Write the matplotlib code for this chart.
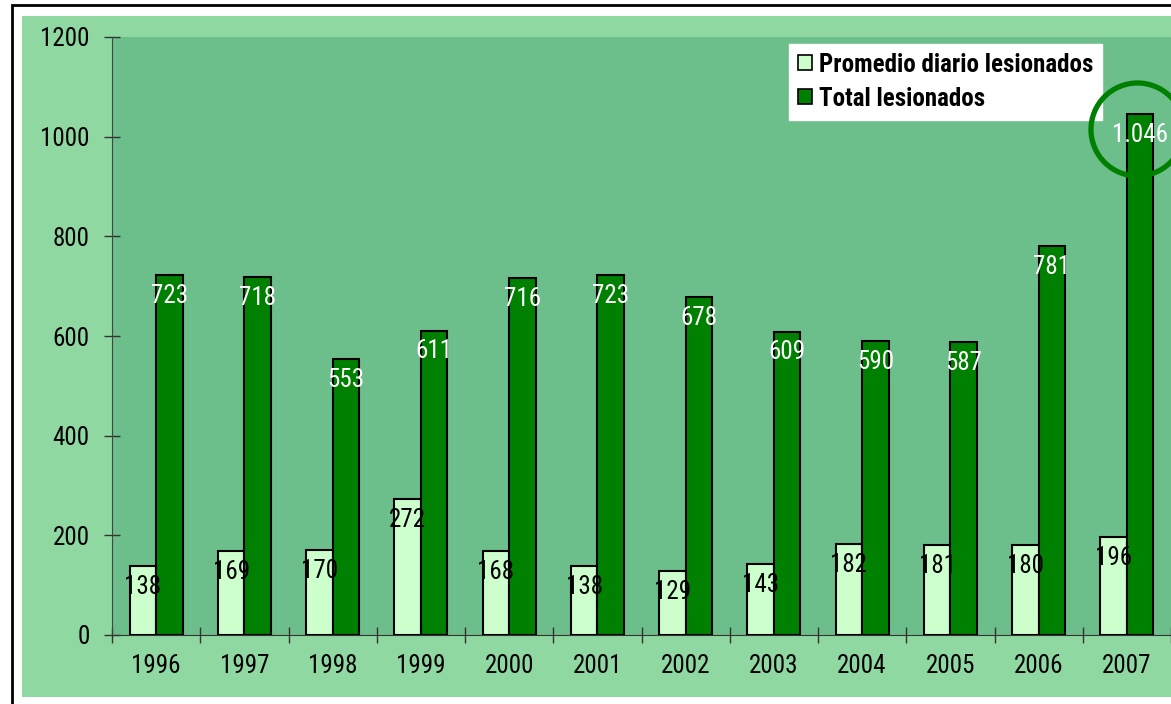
import matplotlib.pyplot as plt
import matplotlib.patches as mpatches
from matplotlib import font_manager as fm
from matplotlib.transforms import offset_copy
import numpy as np

# narrow sans like the original Arial Narrow, whichever is installed first
wanted = ['Liberation Sans Narrow', 'Arial Narrow', 'Roboto Condensed', 'Archivo Narrow',
          'Pragati Narrow', 'PT Sans Narrow']
have = {f.name for f in fm.fontManager.ttflist}
plt.rcParams['font.family'] = [n for n in wanted if n in have] + ['DejaVu Sans']

years = ['1996', '1997', '1998', '1999', '2000', '2001', '2002', '2003', '2004', '2005', '2006', '2007']
promedio = [138, 169, 170, 272, 168, 138, 129, 143, 182, 181, 180, 196]
total = [723, 718, 553, 611, 716, 723, 678, 609, 590, 587, 781, 1046]


def fmt(v):
    return f"{v:,}".replace(',', '.')


fig = plt.figure(figsize=(11.71, 7.04), dpi=100)
fig.patch.set_facecolor('white')

# outer frame and light green chart area
W, H = 1171, 704
fig.patches.append(mpatches.Rectangle((12 / W, -0.1), 1.2, 1 - 5 / H + 0.1, transform=fig.transFigure,
                                      facecolor='white', edgecolor='black', linewidth=2, zorder=-3))
fig.patches.append(mpatches.Rectangle((22 / W, 1 - 697 / H), 1.2, (697 - 16) / H, transform=fig.transFigure,
                                      facecolor='#8fd8a2', edgecolor='none', zorder=-2))

ax = fig.add_axes([112 / W, 1 - 635 / H, 1 - 112 / W, (635 - 37) / H])
ax.set_facecolor('#6cbf8a')

x = np.arange(len(years))
w = 0.3
b1 = ax.bar(x - w / 2, promedio, w, color='#ccffcc', edgecolor='black', linewidth=1.5,
            label='Promedio diario lesionados', zorder=3)
b2 = ax.bar(x + w / 2, total, w, color='#008000', edgecolor='black', linewidth=1.5,
            label='Total lesionados', zorder=3)

for xi, v in zip(x - w / 2, promedio):
    ax.annotate(fmt(v), (xi, v), xytext=(0, -15), textcoords='offset points',
                ha='center', va='center', fontsize=18, color='black', zorder=5)
for xi, v in zip(x + w / 2, total):
    ax.annotate(fmt(v), (xi, v), xytext=(0, -15), textcoords='offset points',
                ha='center', va='center', fontsize=18, color='white', zorder=5)

# highlight ring around the max total
imax = int(np.argmax(total))
ring_tr = offset_copy(ax.transData, fig=fig, x=-2, y=-11, units='points')
ax.plot([x[imax] + w / 2], [total[imax]], marker='o', markersize=67, markerfacecolor='none',
        markeredgecolor='#008000', markeredgewidth=3.8, transform=ring_tr, clip_on=False, zorder=6)

ax.set_xlim(-0.5, len(years) - 0.5)
ax.set_ylim(0, 1200)
ax.set_yticks(range(0, 1201, 200))
ax.set_xticks(x)
ax.set_xticklabels(years)
ax.set_xticks(np.arange(-0.5, len(years), 1), minor=True)
ax.tick_params(axis='x', which='major', length=0, pad=14, labelsize=18)
ax.tick_params(axis='x', which='minor', direction='inout', length=12, width=1, color='#333333')
ax.tick_params(axis='y', direction='inout', length=12, width=1, color='#333333', pad=10, labelsize=18)

for s in ['top', 'right']:
    ax.spines[s].set_visible(False)
ax.spines['left'].set_color('#444444')
ax.spines['bottom'].set_color('#333333')

leg = ax.legend(loc='upper left', bbox_to_anchor=((789 - 112) / (W - 112), 1 - (44 - 37) / (635 - 37)),
                frameon=True, fancybox=False, framealpha=1, edgecolor='white',
                prop={'weight': 'bold', 'size': 18}, handlelength=0.55, handleheight=0.55,
                handletextpad=0.3, labelspacing=0.4, borderpad=0.35, borderaxespad=0)
for p in leg.get_patches():
    p.set_linewidth(1.2)

fig.savefig('out.png', dpi=100)
